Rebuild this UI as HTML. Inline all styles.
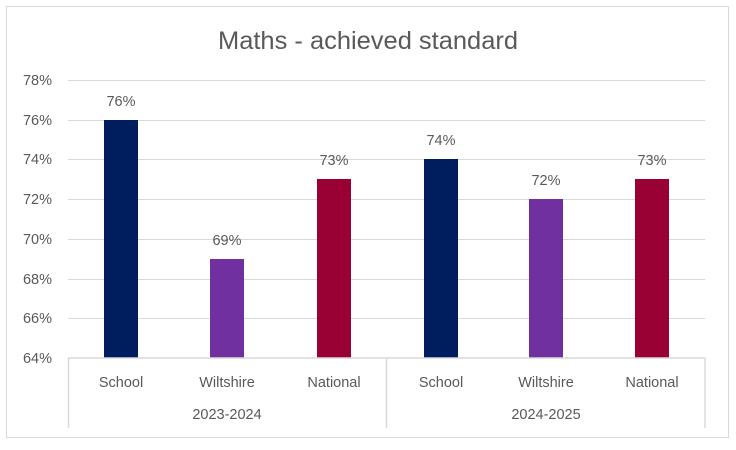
<!DOCTYPE html>
<html><head><style>
html,body{margin:0;padding:0;background:#fff;}
body{width:736px;height:445px;overflow:hidden;}
text{font-family:"Liberation Sans",sans-serif;fill:#595959;}
</style></head><body>
<svg width="736" height="445" viewBox="0 0 736 445">
<rect x="6.5" y="6.5" width="722" height="431" fill="#fff" stroke="#d9d9d9" stroke-width="1"/>
<text x="368" y="49" font-size="25" text-anchor="middle" textLength="300" lengthAdjust="spacingAndGlyphs">Maths - achieved standard</text>
<g stroke="#d9d9d9" stroke-width="1">
<line x1="68" x2="705" y1="80.5" y2="80.5"/>
<line x1="68" x2="705" y1="120.5" y2="120.5"/>
<line x1="68" x2="705" y1="159.5" y2="159.5"/>
<line x1="68" x2="705" y1="199.5" y2="199.5"/>
<line x1="68" x2="705" y1="239.5" y2="239.5"/>
<line x1="68" x2="705" y1="279.5" y2="279.5"/>
<line x1="68" x2="705" y1="318.5" y2="318.5"/>
</g>
<g font-size="14.5" text-anchor="end">
<text x="52" y="85">78%</text>
<text x="52" y="125">76%</text>
<text x="52" y="164">74%</text>
<text x="52" y="204">72%</text>
<text x="52" y="244">70%</text>
<text x="52" y="284">68%</text>
<text x="52" y="323">66%</text>
<text x="52" y="363">64%</text>
</g>
<rect x="104" y="120" width="34" height="238" fill="#001e5e"/>
<rect x="210" y="259" width="34" height="99" fill="#7030a0"/>
<rect x="317" y="179" width="34" height="179" fill="#990033"/>
<rect x="424" y="159" width="34" height="199" fill="#001e5e"/>
<rect x="529" y="199" width="34" height="159" fill="#7030a0"/>
<rect x="635" y="179" width="34" height="179" fill="#990033"/>
<g font-size="14.5" text-anchor="middle" fill="#404040">
<text x="121" y="106">76%</text>
<text x="227" y="245">69%</text>
<text x="334" y="165">73%</text>
<text x="441" y="145">74%</text>
<text x="546" y="185">72%</text>
<text x="652" y="165">73%</text>
</g>
<g stroke="#d9d9d9" stroke-width="1.5">
<line x1="68" x2="705" y1="358" y2="358"/>
<line x1="68.5" x2="68.5" y1="358" y2="428"/>
<line x1="386.5" x2="386.5" y1="358" y2="428"/>
<line x1="705" x2="705" y1="358" y2="428"/>
</g>
<g font-size="14.5" text-anchor="middle">
<text x="121" y="387">School</text>
<text x="227" y="387">Wiltshire</text>
<text x="334" y="387">National</text>
<text x="441" y="387">School</text>
<text x="546" y="387">Wiltshire</text>
<text x="652" y="387">National</text>
<text x="227" y="419">2023-2024</text>
<text x="546" y="419">2024-2025</text>
</g>
</svg>
</body></html>
